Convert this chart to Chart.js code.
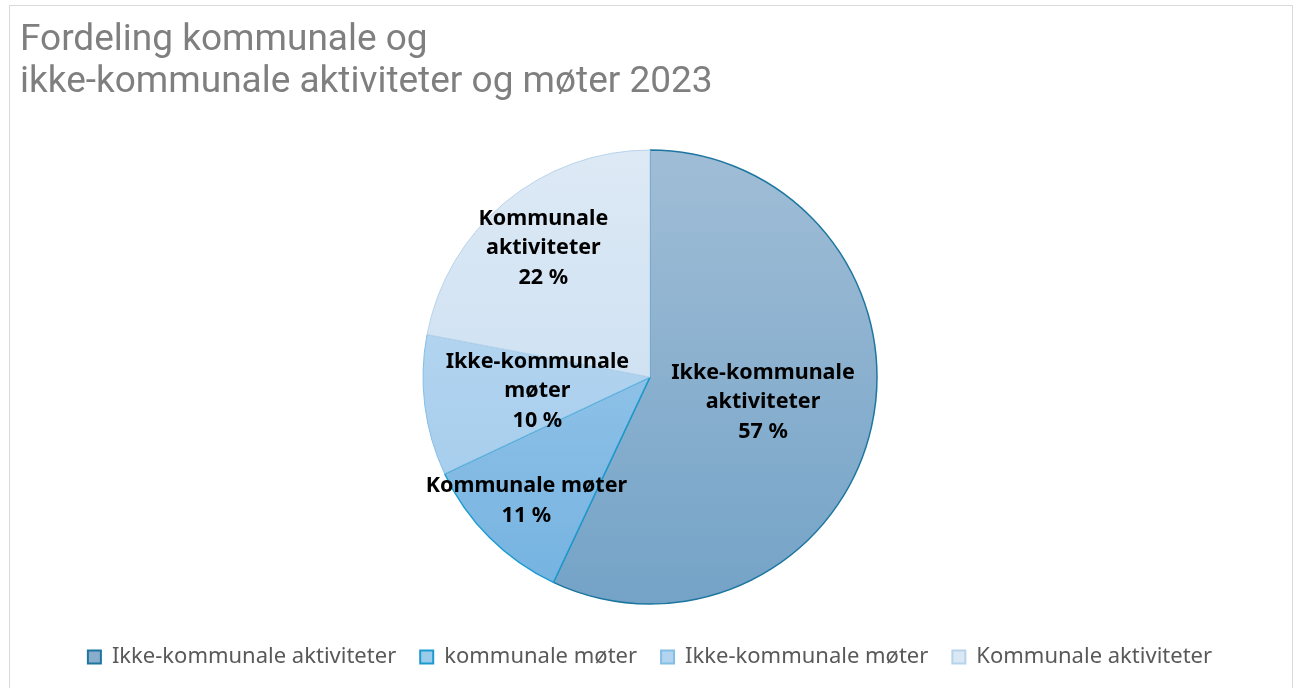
<!DOCTYPE html>
<html>
<head>
<meta charset="utf-8">
<title>Fordeling kommunale og ikke-kommunale aktiviteter og møter 2023</title>
<script src="https://cdn.jsdelivr.net/npm/chart.js@4.4.0/dist/chart.umd.min.js"></script>
<style>
  html, body { margin: 0; padding: 0; background: #fff; overflow: hidden; }
  #wrap {
    position: absolute; left: 9px; top: 5px;
    width: 1284px; height: 700px;
    border: 1px solid #d9d9d9; box-sizing: border-box;
  }
  canvas { display: block; }
</style>
</head>
<body>
<div id="wrap"><canvas id="pieChart" width="1282" height="682"></canvas></div>
<script>
  const titleLines = ["Fordeling kommunale og", "ikke-kommunale aktiviteter og møter 2023"];
  const legendLabels = ["Ikke-kommunale aktiviteter", "kommunale møter", "Ikke-kommunale møter", "Kommunale aktiviteter"];
  const sliceNames = [["Ikke-kommunale", "aktiviteter"], ["Kommunale møter"], ["Ikke-kommunale", "møter"], ["Kommunale", "aktiviteter"]];
  const shares = [57, 11, 10, 22];

  // top / bottom colours of the vertical gradient for each slice
  const gradTop = ["#a0bdd6", "#a6cfee", "#bfdbf2", "#dde9f5"];
  const gradBottom = ["#74a3c7", "#74b2e0", "#9ec9eb", "#c3dbf0"];
  const edgeColors = ["#1d76a0", "#1c9bd1", "#84bee4", "#b7d3ea"];
  const legendFill = ["#89adcb", "#9bcbea", "#b2d4ef", "#dae8f5"];

  const pieRadius = 227;
  // distance of each label from the centre, as a share of the radius
  const labelRadius = [0.51, 0.77, 0.50, 0.737];

  function sliceGradient(ctx) {
    const chart = ctx.chart;
    const area = chart.chartArea;
    const i = ctx.dataIndex;
    if (!area) return gradTop[i];
    const cy = (area.top + area.bottom) / 2;
    const g = chart.ctx.createLinearGradient(0, cy - pieRadius, 0, cy + pieRadius);
    g.addColorStop(0, gradTop[i]);
    g.addColorStop(1, gradBottom[i]);
    return g;
  }

  const sliceLabels = {
    id: "sliceLabels",
    afterDatasetsDraw(chart) {
      const ctx = chart.ctx;
      const meta = chart.getDatasetMeta(0);
      const lh = 29.5;
      ctx.save();
      ctx.font = "bold 21.5px 'Noto Sans'";
      ctx.fillStyle = "#000";
      ctx.textAlign = "center";
      ctx.textBaseline = "middle";
      meta.data.forEach((arc, i) => {
        const p = arc.getProps(["x", "y", "startAngle", "endAngle", "outerRadius"], true);
        const mid = (p.startAngle + p.endAngle) / 2;
        const r = p.outerRadius * labelRadius[i];
        const cx = p.x + Math.cos(mid) * r;
        const cy = p.y + Math.sin(mid) * r;
        const lines = sliceNames[i].concat([shares[i] + " %"]);
        const top = cy - (lines.length - 1) * lh / 2;
        lines.forEach((t, k) => ctx.fillText(t, cx, top + k * lh));
      });
      ctx.restore();
    }
  };

  new Chart(document.getElementById("pieChart"), {
    type: "pie",
    data: {
      labels: legendLabels,
      datasets: [{
        data: shares,
        radius: pieRadius,
        backgroundColor: sliceGradient,
        borderColor: edgeColors,
        borderWidth: [1.5, 1.5, 1, 1]
      }]
    },
    options: {
      responsive: false,
      animation: false,
      layout: { padding: { left: 10, right: 12, top: 0, bottom: 10 } },
      plugins: {
        title: {
          display: true,
          text: titleLines,
          align: "start",
          color: "#7f7f7f",
          font: { family: "Roboto", size: 37, weight: "normal", lineHeight: 1.15 },
          padding: { top: 13, bottom: 28 }
        },
        legend: {
          position: "bottom",
          labels: {
            boxWidth: 13,
            boxHeight: 13,
            padding: 24,
            color: "#595959",
            font: { family: "Noto Sans", size: 22 },
            generateLabels: () => legendLabels.map((text, i) => ({
              text: text,
              fillStyle: legendFill[i],
              strokeStyle: edgeColors[i],
              lineWidth: 2,
              fontColor: "#595959",
              hidden: false,
              index: i
            }))
          }
        },
        tooltip: { enabled: false }
      }
    },
    plugins: [sliceLabels]
  });
</script>
</body>
</html>
